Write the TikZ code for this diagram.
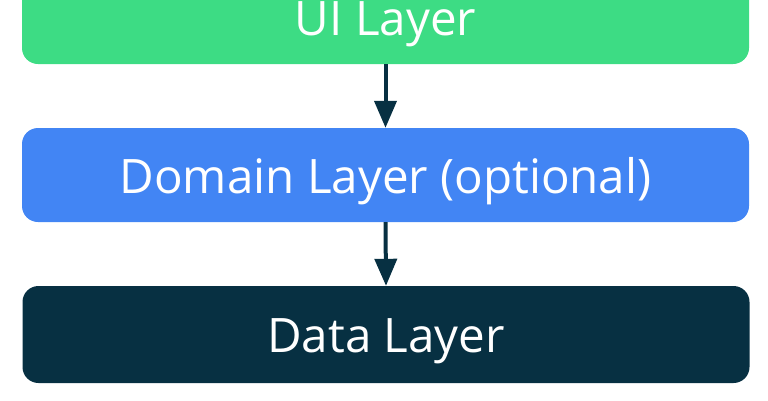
\documentclass[tikz,border=0pt]{standalone}
\usepackage{fontspec}
\setmainfont{Open Sans}
\usetikzlibrary{arrows.meta}
\definecolor{uigreen}{HTML}{3DDC84}
\definecolor{domblue}{HTML}{4285F4}
\definecolor{datadark}{HTML}{073042}
\begin{document}
\begin{tikzpicture}[x=1pt,y=-1pt,
  layerbox/.style={rounded corners=16pt, minimum width=727pt, text=white,
    font=\fontsize{47.5}{56}\selectfont, inner sep=0pt, text height=36pt, text depth=0pt},
  flow/.style={datadark, line width=4pt, -{Triangle[length=27pt,width=22pt]}}]
\useasboundingbox (0,0) rectangle (768,400);
\node[layerbox, fill=uigreen, minimum height=94pt] (ui) at (385.5,17) {UI Layer};
\node[layerbox, fill=domblue, minimum height=94pt] (dom) at (385.5,175) {Domain Layer (optional)};
\node[layerbox, fill=datadark, minimum height=97pt] (data) at (386,334.5) {Data Layer};
\draw[flow] (ui.south) -- (dom.north);
\draw[flow] (dom.south) -- (data.north);
\end{tikzpicture}
\end{document}
